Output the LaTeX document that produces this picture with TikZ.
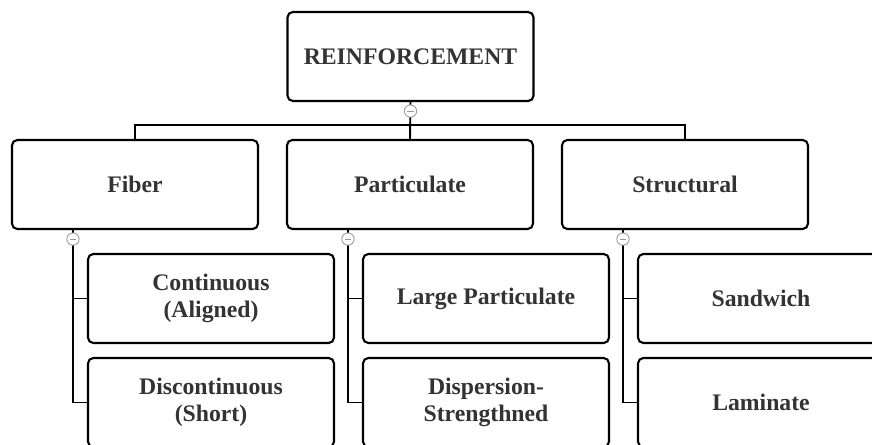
\documentclass[tikz,border=0pt]{standalone}
\usepackage{fontspec}
\setmainfont{Liberation Serif}
\usepackage{xcolor}
\usepackage{tikz}
\usetikzlibrary{calc,positioning}
\definecolor{texto}{HTML}{333333}
\tikzset{
  caja/.style={draw=black,line width=1.2pt,rounded corners=3pt,fill=white,
    minimum width=4.92cm,minimum height=1.78cm,align=center,text=texto,
    font=\fontsize{13.5}{15.5}\selectfont\bfseries},
  rama/.style={draw=black,line width=1.1pt},
  boton/.style={circle,draw=gray!80,fill=white,line width=0.5pt,inner sep=0pt,minimum size=7pt,
    path picture={\draw[gray!80,line width=0.5pt] ([xshift=-1.8pt]path picture bounding box.center)--([xshift=1.8pt]path picture bounding box.center);}}
}
\begin{document}
\begin{tikzpicture}[x=0.02cm,y=-0.02cm]
\useasboundingbox (0,0) rectangle (872,444);
\clip (0,0) rectangle (872,444);
% raiz y primer nivel
\node[caja] (raiz) at (410.5,56.5) {REINFORCEMENT};
\node[caja] (fibra) at (135,184.5) {Fiber};
\node[caja] (part) at (410,184.5) {Particulate};
\node[caja] (estr) at (685,184.5) {Structural};
\coordinate (barra) at (0,125);
\draw[rama] (raiz.south) -- (part.north);
\draw[rama] (fibra.north) -- (fibra.north |- barra) -- (estr.north |- barra) -- (estr.north);
% segundo nivel
\node[caja] (cont) at (211,298.5) {Continuous\\(Aligned)};
\node[caja] (disc) at (211,402.5) {Discontinuous\\(Short)};
\node[caja] (grande) at (486,298.5) {Large Particulate};
\node[caja] (disp) at (486,402.5) {Dispersion-\\Strengthned};
\node[caja] (sand) at (761,298.5) {Sandwich};
\node[caja] (lami) at (761,402.5) {Laminate};
\foreach \p/\a/\b in {fibra/cont/disc,part/grande/disp,estr/sand/lami}{
  \coordinate (eje\p) at ($(\p.south west)!0.25!(\p.south east)$);
  \draw[rama] (eje\p) |- (\a.west);
  \draw[rama] (eje\p) |- (\b.west);
  \node[boton] at ([yshift=-0.18cm]eje\p) {};
}
\node[boton] at ([yshift=-0.18cm]raiz.south) {};
\end{tikzpicture}
\end{document}
